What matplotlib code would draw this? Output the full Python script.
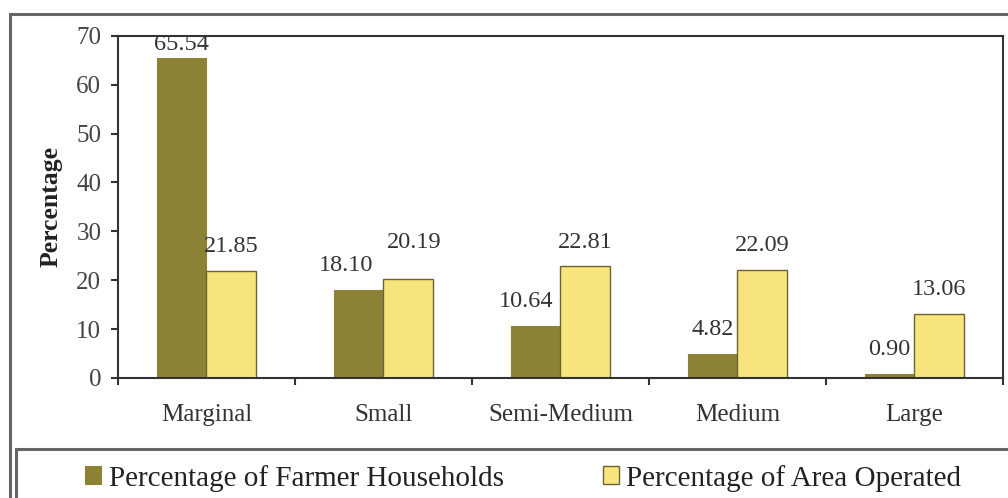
import matplotlib

matplotlib.use("Agg")
import matplotlib.pyplot as plt
import numpy as np
from matplotlib.patches import Rectangle

categories = ["Marginal", "Small", "Semi-Medium", "Medium", "Large"]
households = [65.54, 18.10, 10.64, 4.82, 0.90]
area = [21.85, 20.19, 22.81, 22.09, 13.06]
series_names = ["Percentage of Farmer Households", "Percentage of Area Operated"]

plt.rcParams["font.family"] = ["Liberation Serif", "DejaVu Serif"]

dark = "#8c8236"
light = "#f8e47c"
edge = "#6b6332"
txt = "#333333"

# small shifts (in points) that keep crowded value labels apart
nudge = {(0, 1): (-9, 0), (0, 2): (-7, 0), (1, 1): (4, 9)}

fig = plt.figure(figsize=(10.08, 4.98), dpi=100)
ax = fig.add_axes([0.117, 0.241, 0.878, 0.687])

x = np.arange(len(categories))
w = 0.28
b1 = ax.bar(x - w / 2, households, w, color=dark, edgecolor=dark, linewidth=0.8,
            label=series_names[0])
b2 = ax.bar(x + w / 2, area, w, color=light, edgecolor=edge, linewidth=1.0,
            label=series_names[1])

# value labels sit above each bar, kept inside the plot area
for si, (bars, vals) in enumerate(((b1, households), (b2, area))):
    for i, (r, v) in enumerate(zip(bars, vals)):
        ax.annotate(f"{v:.2f}", (r.get_x() + r.get_width() / 2, min(v + 5.0, 68.3)),
                    xytext=nudge.get((si, i), (0, 0)), textcoords="offset points",
                    ha="center", va="center", fontsize=17.5, color=txt)

ax.set_xlim(-0.5, len(categories) - 0.5)
ax.set_ylim(0, 70)
ax.set_yticks(range(0, 71, 10))
ax.set_xticks(np.arange(-0.5, len(categories), 1.0))
ax.set_xticklabels([])
ax.set_xticks(x, minor=True)
ax.set_xticklabels(categories, minor=True)
ax.tick_params(axis="x", which="minor", length=0, pad=19, labelsize=18, labelcolor=txt)
ax.tick_params(axis="x", which="major", length=5, width=1.5, direction="out", color="#333333")
ax.tick_params(axis="y", length=5, width=1.5, direction="out", pad=7, labelsize=18,
               labelcolor="#444444", color="#333333")
for s in ax.spines.values():
    s.set_linewidth(1.5)
    s.set_color("#333333")
ax.set_ylabel("Percentage", fontsize=18.5, fontweight="bold", labelpad=10, color="#222222")

# outer frame and legend box
fig.patches.append(Rectangle((0.010, -0.1), 1.2, 1.072, transform=fig.transFigure,
                             fill=False, edgecolor="#666666", linewidth=2.2))
fig.patches.append(Rectangle((0.016, -0.1), 1.2, 0.198, transform=fig.transFigure,
                             fill=False, edgecolor="#666666", linewidth=2.2))

fig.legend(handles=[b1, b2], loc="center", bbox_to_anchor=(0.519, 0.040), ncol=2,
           frameon=False, fontsize=21, handlelength=0.55, handleheight=0.55,
           handletextpad=0.25, columnspacing=3.4, labelcolor="#222222")

fig.savefig("out.png", dpi=100)
